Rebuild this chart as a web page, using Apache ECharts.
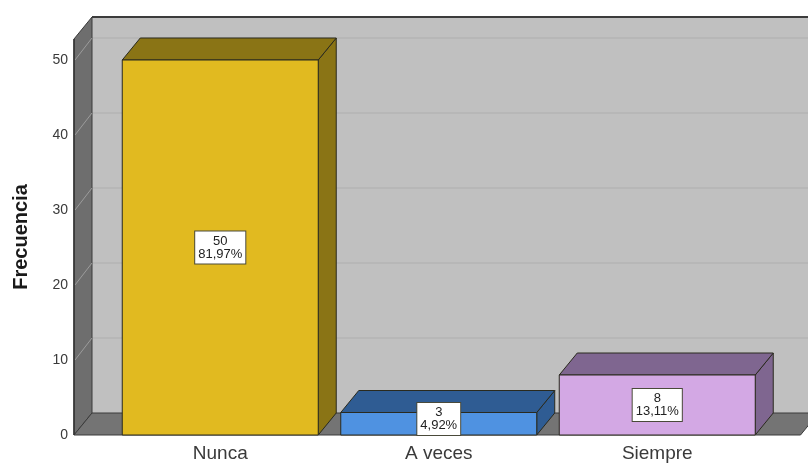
<!DOCTYPE html>
<html>
<head>
<meta charset="utf-8">
<script src="https://cdn.jsdelivr.net/npm/echarts@6/dist/echarts.min.js"></script>
<style>
  html, body { margin: 0; padding: 0; background: #fff; }
  #chart { width: 808px; height: 466px; }
</style>
</head>
<body>
<div id="chart"></div>
<script>
// Frequency table
const categories = ['Nunca', 'A veces', 'Siempre'];
const counts = [50, 3, 8];
const tickValues = [0, 10, 20, 30, 40, 50];

// Per-category face colours: [front, top/side]
const barColors = [
  ['#E1BA20', '#8A7415'],
  ['#4F92E1', '#2F5C93'],
  ['#D3A8E4', '#7F6690']
];

const total = counts.reduce((a, b) => a + b, 0);
const pctText = v => (v / total * 100).toFixed(2).replace('.', ',') + '%';

// Depth of the 3D box (screen offset of the back plane)
const DX = 18, DY = -22;
const FONT = '"Liberation Sans", Arial, sans-serif';

const chart = echarts.init(document.getElementById('chart'), null, { renderer: 'canvas' });

function renderFrame(params, api) {
  const cs = params.coordSys;
  const L = cs.x - 37;
  const R = cs.x + cs.width + 34;
  const top = cs.y;
  const bot = cs.y + cs.height;
  const children = [];
  // back wall
  children.push({ type: 'polygon', shape: { points: [[L + DX, top + DY], [R + DX, top + DY], [R + DX, bot + DY], [L + DX, bot + DY]] },
    style: { fill: '#C0C0C0', stroke: null } });
  // grid lines on the back wall and the left wall
  tickValues.forEach(t => {
    if (t === 0) return;
    const y = api.coord([0, t])[1];
    children.push({ type: 'line', shape: { x1: L + DX, y1: y + DY, x2: R + DX, y2: y + DY },
      style: { stroke: '#B5B5B5', lineWidth: 1.5 } });
  });
  // left wall
  children.push({ type: 'polygon', shape: { points: [[L, top], [L + DX, top + DY], [L + DX, bot + DY], [L, bot]] },
    style: { fill: '#6E6E6E', stroke: '#3A3A3A', lineWidth: 1 } });
  tickValues.forEach(t => {
    if (t === 0) return;
    const y = api.coord([0, t])[1];
    children.push({ type: 'line', shape: { x1: L + 1, y1: y, x2: L + DX, y2: y + DY },
      style: { stroke: '#9C9C9C', lineWidth: 1 } });
  });
  // floor
  children.push({ type: 'polygon', shape: { points: [[L, bot], [L + DX, bot + DY], [R + DX, bot + DY], [R, bot]] },
    style: { fill: '#747474', stroke: '#3A3A3A', lineWidth: 1 } });
  // top edge of the back wall
  children.push({ type: 'line', shape: { x1: L + DX, y1: top + DY, x2: R + DX, y2: top + DY },
    style: { stroke: '#3C3C3C', lineWidth: 2 } });
  children.push({ type: 'line', shape: { x1: L, y1: top, x2: L, y2: bot },
    style: { stroke: '#333', lineWidth: 1.5 } });
  return { type: 'group', children };
}

function renderBar(params, api) {
  const i = api.value(0);
  const v = api.value(1);
  const p = api.coord([i, v]);
  const b = api.coord([i, 0]);
  const bw = api.size([1, 0])[0] * 0.897;
  const x0 = p[0] - bw / 2, x1 = p[0] + bw / 2;
  const yt = p[1], yb = b[1];
  const [front, dark] = barColors[i];
  const edge = { stroke: '#2A2A1E', lineWidth: 1 };
  // keep the value box above the floor line for short bars
  const cy = Math.min((yt + yb) / 2, yb - 16);
  return {
    type: 'group',
    children: [
      { type: 'polygon', shape: { points: [[x1, yt], [x1 + DX, yt + DY], [x1 + DX, yb + DY], [x1, yb]] },
        style: Object.assign({ fill: dark }, edge) },
      { type: 'polygon', shape: { points: [[x0, yt], [x0 + DX, yt + DY], [x1 + DX, yt + DY], [x1, yt]] },
        style: Object.assign({ fill: dark }, edge) },
      { type: 'rect', shape: { x: x0, y: yt, width: bw, height: yb - yt },
        style: Object.assign({ fill: front }, edge) },
      { type: 'text', z2: 10,
        style: {
          text: v + '\n' + pctText(v),
          x: p[0], y: cy,
          align: 'center', verticalAlign: 'middle',
          fontFamily: FONT, fontSize: 13, lineHeight: 13,
          fill: '#222',
          backgroundColor: '#fff', borderColor: '#4A4A3A', borderWidth: 1,
          padding: [3, 3]
        } }
    ]
  };
}

chart.setOption({
  animation: false,
  backgroundColor: '#ffffff',
  grid: { left: 111, right: 41.5, top: 39, bottom: 31, containLabel: false },
  xAxis: {
    type: 'category',
    data: categories,
    axisLine: { show: false },
    axisTick: { show: false },
    axisLabel: { margin: 9, fontSize: 19, color: '#3A3A3A', fontFamily: FONT },
    splitLine: { show: false }
  },
  yAxis: {
    type: 'value',
    min: 0, max: 52.8, interval: 10,
    offset: 37,
    name: 'Frecuencia',
    nameLocation: 'middle',
    nameGap: 43,
    nameTextStyle: { fontSize: 20, fontWeight: 'bold', color: '#1A1A1A', fontFamily: FONT },
    axisLine: { show: false },
    axisTick: { show: false },
    splitLine: { show: false },
    axisLabel: { margin: 6, fontSize: 14, color: '#3A3A3A', fontFamily: FONT, showMaxLabel: false }
  },
  series: [
    {
      type: 'custom',
      z: 1,
      silent: true,
      clip: false,
      renderItem: renderFrame,
      data: [[0, 0]]
    },
    {
      type: 'custom',
      z: 2,
      clip: false,
      renderItem: renderBar,
      data: counts.map((v, i) => [i, v])
    }
  ]
});
</script>
</body>
</html>
